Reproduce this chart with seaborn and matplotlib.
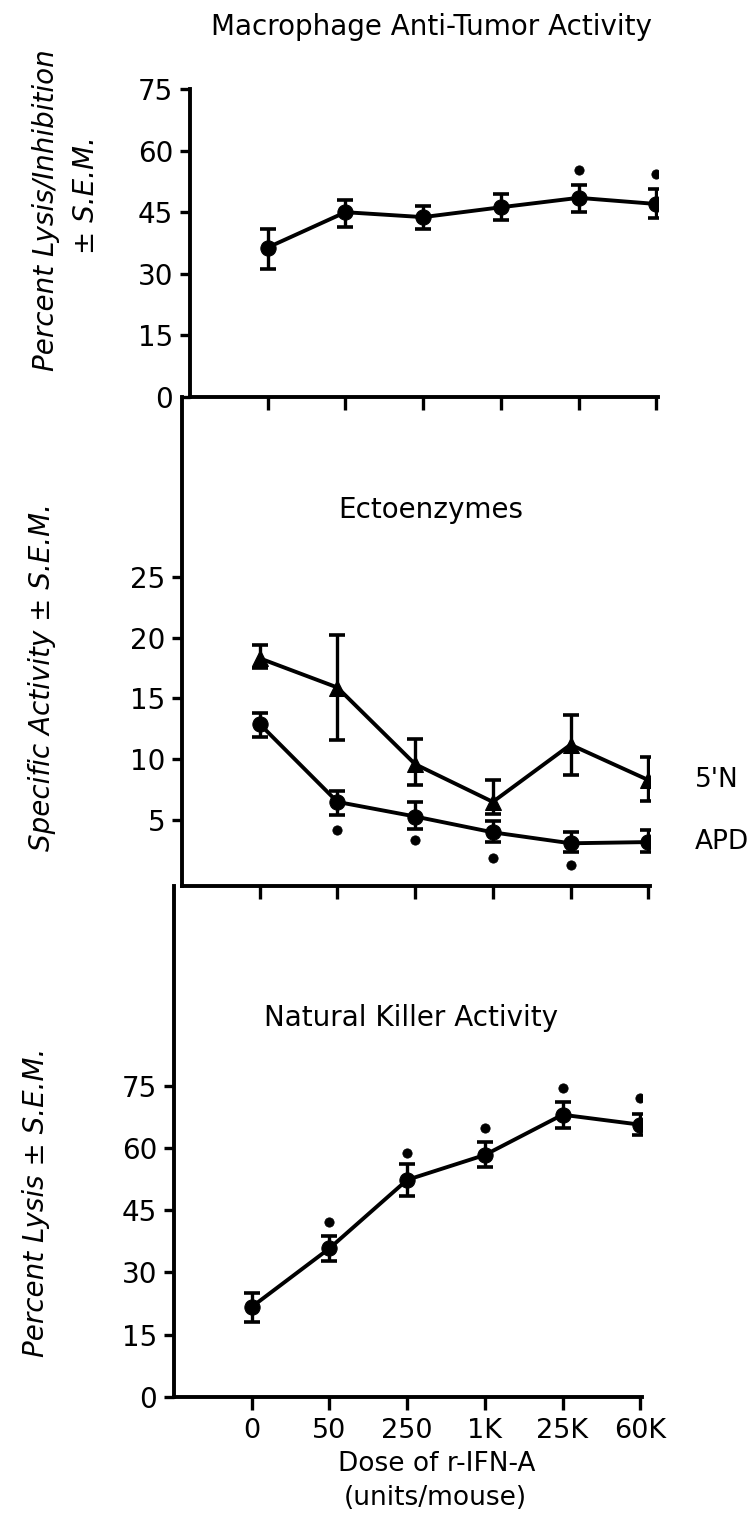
import numpy as np
import pandas as pd
import matplotlib
matplotlib.use("Agg")
import matplotlib.pyplot as plt
import seaborn as sns

# ---------------- data ----------------
doses = ["0", "50", "250", "1K", "25K", "60K"]

mac_mean = [36.4, 45.0, 43.8, 46.2, 48.5, 47.0]
mac_low = [31.2, 41.4, 41.0, 43.2, 45.0, 43.5]
mac_high = [40.8, 48.0, 46.5, 49.4, 51.6, 50.6]
mac_sig = [None, None, None, None, 55.3, 54.3]

n5_mean = [18.3, 15.9, 9.6, 6.5, 11.2, 8.3]
n5_low = [17.5, 11.6, 7.9, 5.5, 8.7, 6.6]
n5_high = [19.4, 20.2, 11.7, 8.3, 13.6, 10.2]

apd_mean = [12.9, 6.5, 5.3, 4.0, 3.1, 3.2]
apd_low = [11.8, 5.4, 4.3, 3.2, 2.4, 2.4]
apd_high = [13.8, 7.4, 6.5, 4.9, 4.0, 4.2]
apd_sig = [None, 4.2, 3.35, 1.9, 1.3, None]

nk_mean = [21.7, 35.8, 52.3, 58.3, 68.0, 65.6]
nk_low = [18.1, 32.7, 48.4, 55.5, 64.8, 63.0]
nk_high = [25.1, 38.8, 56.2, 61.5, 71.0, 68.2]
nk_sig = [None, 42.2, 58.9, 64.8, 74.5, 72.1]

mac_ticks = [0, 15, 30, 45, 60, 75]
ecto_ticks = [5, 10, 15, 20, 25]
nk_ticks = [0, 15, 30, 45, 60, 75]

# ---------------- style ----------------
sns.set_style("ticks")
plt.rcParams["font.family"] = ["DejaVu Sans"]
plt.rcParams["text.color"] = "black"
plt.rcParams["xtick.color"] = "black"
plt.rcParams["ytick.color"] = "black"
plt.rcParams["axes.labelcolor"] = "black"

W, H = 747, 1526
fig = plt.figure(figsize=(W / 100, H / 100), dpi=100)

LW = 2.8
TXT = 20
pos = np.arange(len(doses))


def fx(px):
    return px / W


def fy(py):
    return 1 - py / H


def make_ax(left_px, top_px, bottom_px, width_px):
    return fig.add_axes([fx(left_px), fy(bottom_px), width_px / W, (bottom_px - top_px) / H])


def series(ax, mean, low, high, marker):
    df = pd.DataFrame({"pos": pos, "val": mean})
    sns.lineplot(data=df, x="pos", y="val", ax=ax, color="black", linewidth=LW,
                 marker=marker, markersize=11, markeredgecolor="black",
                 markerfacecolor="black", legend=False)
    m = np.array(mean)
    yerr = [m - np.array(low), np.array(high) - m]
    ax.errorbar(pos, m, yerr=yerr, fmt="none", ecolor="black", elinewidth=2.4,
                capsize=5.5, capthick=2.6)


def stars(ax, sig):
    xs = [p for p, s in zip(pos, sig) if s is not None]
    ys = [s for s in sig if s is not None]
    sns.scatterplot(x=xs, y=ys, ax=ax, color="black", marker="o", s=45,
                    edgecolor="black", legend=False)


def style_ax(ax, yticks, ylim, show_xlabels=False):
    ax.set_xlim(-1, 5.02)
    ax.set_ylim(*ylim)
    ax.set_yticks(yticks)
    ax.set_yticklabels([str(t) for t in yticks])
    ax.set_xticks(pos)
    if show_xlabels:
        ax.set_xticklabels(doses)
    else:
        ax.set_xticklabels([])
    for s in ["top", "right"]:
        ax.spines[s].set_visible(False)
    for s in ["left", "bottom"]:
        ax.spines[s].set_linewidth(2.8)
        ax.spines[s].set_color("black")
    ax.tick_params(axis="y", direction="out", length=7, width=2.4, labelsize=20, pad=5)
    ax.tick_params(axis="x", direction="out", length=9, width=2.4, labelsize=19.5, pad=6)
    ax.set_xlabel("")
    ax.set_ylabel("")
    ax.patch.set_alpha(0)


AXW = 467.8

# top panel
ax1 = make_ax(190, 89, 397, AXW)
series(ax1, mac_mean, mac_low, mac_high, "o")
stars(ax1, mac_sig)
style_ax(ax1, mac_ticks, (0, 75))

# middle panel
ax2 = make_ax(182, 397, 886, AXW)
series(ax2, n5_mean, n5_low, n5_high, "^")
series(ax2, apd_mean, apd_low, apd_high, "o")
stars(ax2, apd_sig)
style_ax(ax2, ecto_ticks, (-0.41, 39.77))
ax2.text(5.6, n5_mean[-1], "5'N", fontsize=19, va="center", ha="left", clip_on=False)
ax2.text(5.6, apd_mean[-1], "APD", fontsize=19, va="center", ha="left", clip_on=False)

# bottom panel
ax3 = make_ax(174, 886, 1397, AXW)
series(ax3, nk_mean, nk_low, nk_high, "o")
stars(ax3, nk_sig)
style_ax(ax3, nk_ticks, (0, 123.1), show_xlabels=True)

# titles
fig.text(fx(431), fy(27), "Macrophage Anti-Tumor Activity", fontsize=TXT, ha="center", va="center")
fig.text(fx(431), fy(510), "Ectoenzymes", fontsize=TXT, ha="center", va="center")
fig.text(fx(411), fy(1018), "Natural Killer Activity", fontsize=TXT, ha="center", va="center")

# y labels
fig.text(fx(46), fy(210), "Percent Lysis/Inhibition", fontsize=TXT, style="italic",
         rotation=90, ha="center", va="center")
fig.text(fx(86), fy(195), "± S.E.M.", fontsize=TXT, style="italic",
         rotation=90, ha="center", va="center")
fig.text(fx(42), fy(677), "Specific Activity ± S.E.M.", fontsize=TXT, style="italic",
         rotation=90, ha="center", va="center")
fig.text(fx(36), fy(1202), "Percent Lysis ± S.E.M.", fontsize=TXT, style="italic",
         rotation=90, ha="center", va="center")

# x label
fig.text(fx(437), fy(1464), "Dose of r-IFN-A", fontsize=19, ha="center", va="center")
fig.text(fx(435), fy(1498), "(units/mouse)", fontsize=19, ha="center", va="center")

fig.savefig("out.png", dpi=100)
